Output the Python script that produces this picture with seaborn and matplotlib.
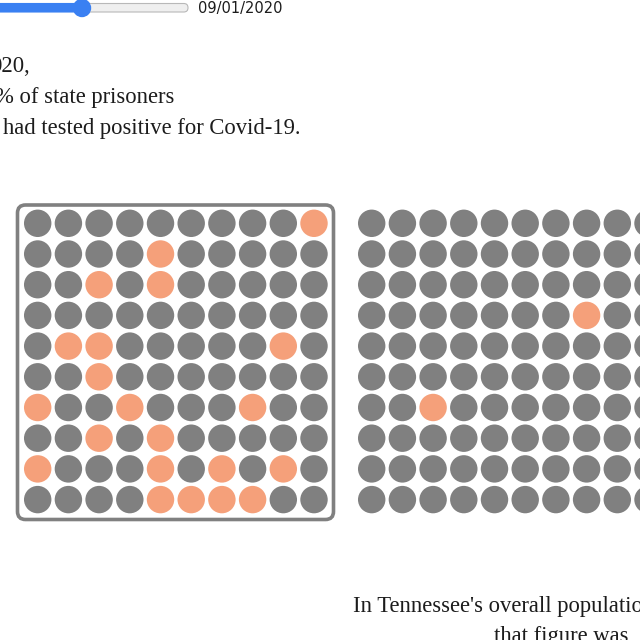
"""Covid-19 in Tennessee prisons: 10x10 dot grids, prisoners vs. overall population"""

import pandas as pd
import matplotlib
matplotlib.use("Agg")
import matplotlib.pyplot as plt
from matplotlib.patches import FancyBboxPatch, Circle
import seaborn as sns

# data: cells (row * 10 + col) marked as tested positive, per 100 people
prison_positive = [9, 14, 22, 24, 41, 42, 48, 52, 60, 63, 67,
                   72, 74, 80, 84, 86, 88, 94, 95, 96, 97]
population_positive = [37, 62]
groups = ["prisoners", "population"]
slider_date = "09/01/2020"
top_lines = ["020,", "% of state prisoners", "had tested positive for Covid-19."]
bottom_lines = ["In Tennessee's overall population,", "that figure was"]

GRAY = "#808080"
ORANGE = "#F5A07A"
BLUE = "#3A80F2"
TEXT = "#1c1c1c"

STEP = 30.7
ORIGINS = {"prisoners": (37.7, 223.3), "population": (371.7, 223.3)}


def build_cells():
    rows = []
    for group, positives in zip(groups, [prison_positive, population_positive]):
        x0, y0 = ORIGINS[group]
        for i in range(100):
            r, c = divmod(i, 10)
            rows.append({"group": group,
                         "x": x0 + c * STEP,
                         "y": y0 + r * STEP,
                         "status": "positive" if i in positives else "other"})
    return pd.DataFrame(rows)


def main():
    sns.set_style("white")
    fig = plt.figure(figsize=(6.4, 6.4), dpi=100)
    ax = fig.add_axes([0, 0, 1, 1])

    cells = build_cells()
    sns.scatterplot(data=cells, x="x", y="y", hue="status",
                    palette={"positive": ORANGE, "other": GRAY},
                    s=390, linewidth=0, legend=False, ax=ax)

    # frame around the highlighted (prisoners) grid
    ax.add_patch(FancyBboxPatch((17.5, 205), 316, 314.5,
                                boxstyle="round,pad=0,rounding_size=8",
                                fill=False, edgecolor=GRAY, linewidth=2.6))

    # slider
    ax.add_patch(FancyBboxPatch((80, 3.5), 108, 8.5,
                                boxstyle="round,pad=0,rounding_size=4.2",
                                facecolor="#efefef", edgecolor="#b8b8b8", linewidth=0.8))
    ax.add_patch(FancyBboxPatch((-10, 3.5), 94, 8.5,
                                boxstyle="round,pad=0,rounding_size=4.2",
                                facecolor=BLUE, edgecolor=BLUE, linewidth=0.8))
    ax.add_patch(Circle((82, 8), 8.5, color=BLUE))
    ax.text(198, 8, slider_date, family="DejaVu Sans", fontsize=10.5,
            color=TEXT, va="center", ha="left")

    serif = ["Liberation Serif", "DejaVu Serif"]
    for (x, y), line in zip([(-10, 72), (-5, 103), (3, 134)], top_lines):
        ax.text(x, y, line, family=serif, fontsize=16.3, color=TEXT,
                va="baseline", ha="left")
    for (x, y), line in zip([(353, 612), (494, 642)], bottom_lines):
        ax.text(x, y, line, family=serif, fontsize=16.3, color=TEXT,
                va="baseline", ha="left")

    ax.set_xlim(0, 640)
    ax.set_ylim(640, 0)
    ax.set_aspect("auto")
    ax.axis("off")

    fig.savefig("out.png", dpi=100, facecolor="white")
    plt.close(fig)


if __name__ == "__main__":
    main()
